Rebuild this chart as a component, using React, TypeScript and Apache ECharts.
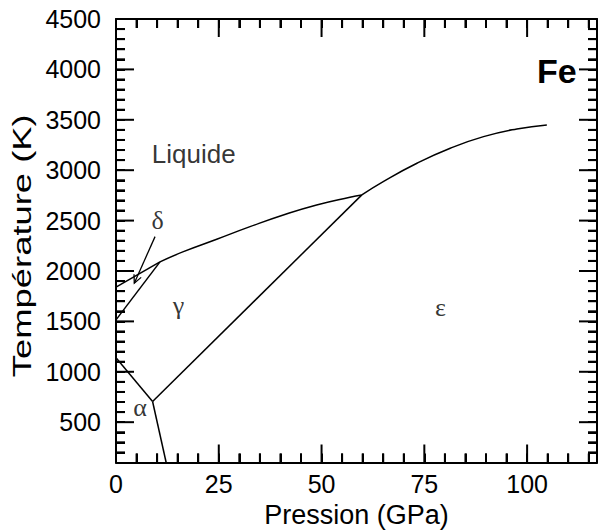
import React, { useEffect, useRef } from "react";
import * as echarts from "echarts";

// Axis ranges and tick positions
const xMin = 0;
const xMax = 117;
const yMin = 100;
const yMax = 4500;
const xMajorTicks = [0, 25, 50, 75, 100];
const xMinorTicks = [5, 10, 15, 20, 30, 35, 40, 45, 55, 60, 65, 70, 80, 85, 90, 95, 105, 110, 115];
const yMajorTicks = [500, 1000, 1500, 2000, 2500, 3000, 3500, 4000, 4500];
const yMinorTicks = [
  200, 300, 400, 600, 700, 800, 900, 1100, 1200, 1300, 1400, 1600, 1700, 1800, 1900,
  2100, 2200, 2300, 2400, 2600, 2700, 2800, 2900, 3100, 3200, 3300, 3400, 3600, 3700,
  3800, 3900, 4100, 4200, 4300, 4400,
];

// Phase boundaries of iron: [pressure GPa, temperature K]
const deltaLiquid = [
  [0, 1840],
  [10.7, 2090],
];
const deltaGamma = [
  [0, 1515],
  [10.7, 2090],
];
const gammaLiquid = [
  [10.7, 2090],
  [16.4, 2192],
  [24.5, 2315],
  [32.6, 2440],
  [40.7, 2556],
  [48.8, 2655],
  [56.9, 2732],
  [59.8, 2755],
];
const epsilonLiquid = [
  [59.8, 2755],
  [65.0, 2887],
  [73.2, 3069],
  [81.3, 3218],
  [89.4, 3333],
  [97.5, 3409],
  [104.8, 3449],
];
const gammaEpsilon = [
  [8.9, 705],
  [59.8, 2755],
];
const alphaGamma = [
  [0, 1140],
  [8.9, 705],
];
const alphaEpsilon = [
  [8.9, 705],
  [12.2, 100],
];

// Arrow pointing from the δ label into the thin δ field: [x1, y1, x2, y2]
const deltaArrow = [9.5, 2341, 4.45, 1879];

// Phase names and where they sit
const phaseNames = ["Liquide", "δ", "γ", "ε", "α"];
const phasePositions = [
  [18.9, 3161],
  [10.1, 2497],
  [15.2, 1654],
  [78.95, 1634],
  [5.84, 642],
];

const SANS = "'Liberation Sans', Arial, Helvetica, sans-serif";
const SERIF = "'Liberation Serif', 'Times New Roman', serif";
const INK = "#000";
const MAJOR_LEN = 18;
const MINOR_LEN = 9;

const GRID = { left: 116, right: 9, top: 19, bottom: 68.5 };

function frameAxis(kind: "x" | "y", position: string, withLabels: boolean) {
  const isX = kind === "x";
  return {
    type: "value",
    position,
    min: isX ? xMin : yMin,
    max: isX ? xMax : yMax,
    interval: isX ? 5 : 100,
    axisLine: { show: true, onZero: false, lineStyle: { color: INK, width: 2 } },
    axisTick: { show: true, inside: true, length: MINOR_LEN, lineStyle: { color: INK, width: 2 } },
    splitLine: { show: false },
    axisLabel: withLabels
      ? {
          show: true,
          margin: isX ? 9 : 15,
          customValues: isX ? xMajorTicks : yMajorTicks,
          fontSize: 25,
          fontFamily: SANS,
          color: INK,
          formatter: (v: number) =>
            (isX ? xMajorTicks : yMajorTicks).indexOf(v) >= 0 ? String(v) : "",
        }
      : { show: false },
    name: withLabels && isX ? "Pression (GPa)" : "",
    nameLocation: "middle",
    nameGap: 32,
    nameTextStyle: { fontSize: 27, fontFamily: SANS, color: INK },
  };
}

function boundary(data: number[][], smooth: boolean | number) {
  return {
    type: "line",
    xAxisIndex: 0,
    yAxisIndex: 0,
    data,
    smooth,
    showSymbol: false,
    symbol: "none",
    silent: true,
    lineStyle: { color: INK, width: 1.5 },
    z: 3,
  };
}

// Inward tick marks on one side of the frame, placed through the axis scales
function tickSeries(side: "bottom" | "top" | "left" | "right", values: number[], len: number) {
  const horizontal = side === "bottom" || side === "top";
  return {
    type: "custom",
    xAxisIndex: 0,
    yAxisIndex: 0,
    data: values.map((v) => (horizontal ? [v, 300] : [50, v])),
    renderItem: (_p: any, api: any) => {
      if (horizontal) {
        const p = api.coord([api.value(0), side === "bottom" ? yMin : yMax]);
        const dir = side === "bottom" ? -1 : 1;
        return {
          type: "line",
          shape: { x1: p[0], y1: p[1], x2: p[0], y2: p[1] + dir * len },
          style: { stroke: INK, lineWidth: 2 },
        };
      }
      const p = api.coord([side === "left" ? xMin : xMax, api.value(1)]);
      const dir = side === "left" ? 1 : -1;
      return {
        type: "line",
        shape: { x1: p[0], y1: p[1], x2: p[0] + dir * len, y2: p[1] },
        style: { stroke: INK, lineWidth: 2 },
      };
    },
  };
}

export default function App() {
  const ref = useRef<HTMLDivElement>(null);

  useEffect(() => {
    if (!ref.current) return;
    const chart = echarts.init(ref.current, undefined, { renderer: "svg" });

    const labelData = phaseNames.map((name, i) => ({
      name,
      value: phasePositions[i],
      label: {
        fontFamily: name === "Liquide" ? SANS : SERIF,
        fontSize: 26,
        color: INK,
      },
    }));

    const plotMidY = GRID.top + (531 - GRID.top - GRID.bottom) / 2;

    chart.setOption({
      animation: false,
      backgroundColor: "#fff",
      title: {
        text: "Fe",
        left: 532,
        top: 49,
        textStyle: { fontSize: 34, fontWeight: "bold", fontFamily: SANS, color: INK },
      },
      grid: { ...GRID, containLabel: false, outerBoundsMode: "none" },
      xAxis: [frameAxis("x", "bottom", true), frameAxis("x", "top", false)],
      yAxis: [frameAxis("y", "left", true), frameAxis("y", "right", false)],
      graphic: [
        {
          type: "text",
          x: 22,
          y: plotMidY + 5,
          rotation: Math.PI / 2,
          scaleX: 1.4,
          silent: true,
          style: {
            text: "Température (K)",
            fontSize: 26,
            fontFamily: SANS,
            fill: INK,
            textAlign: "center",
            textVerticalAlign: "middle",
          },
        },
      ],
      series: [
        boundary(deltaLiquid, false),
        boundary(deltaGamma, false),
        boundary(gammaLiquid, true),
        boundary(epsilonLiquid, true),
        boundary(gammaEpsilon, false),
        boundary(alphaGamma, false),
        boundary(alphaEpsilon, false),
        tickSeries("bottom", xMajorTicks, MAJOR_LEN),
        tickSeries("bottom", xMinorTicks, MINOR_LEN),
        tickSeries("top", xMajorTicks, MAJOR_LEN),
        tickSeries("top", xMinorTicks, MINOR_LEN),
        tickSeries("left", yMajorTicks, MAJOR_LEN),
        tickSeries("left", yMinorTicks, MINOR_LEN),
        tickSeries("right", yMajorTicks, MAJOR_LEN),
        tickSeries("right", yMinorTicks, MINOR_LEN),
        {
          type: "custom",
          xAxisIndex: 0,
          yAxisIndex: 0,
          silent: true,
          data: [deltaArrow],
          renderItem: (_params: any, api: any) => {
            const p1 = api.coord([api.value(0), api.value(1)]);
            const p2 = api.coord([api.value(2), api.value(3)]);
            const ang = Math.atan2(p2[1] - p1[1], p2[0] - p1[0]);
            const len = 9;
            const spread = 0.45;
            const w1 = [p2[0] - len * Math.cos(ang - spread), p2[1] - len * Math.sin(ang - spread)];
            const w2 = [p2[0] - len * Math.cos(ang + spread), p2[1] - len * Math.sin(ang + spread)];
            return {
              type: "group",
              children: [
                {
                  type: "line",
                  shape: { x1: p1[0], y1: p1[1], x2: p2[0], y2: p2[1] },
                  style: { stroke: INK, lineWidth: 1.3 },
                },
                {
                  type: "polyline",
                  shape: { points: [w1, p2, w2] },
                  style: { stroke: INK, lineWidth: 1.3, fill: "none" },
                },
              ],
            };
          },
        },
        {
          type: "scatter",
          xAxisIndex: 0,
          yAxisIndex: 0,
          silent: true,
          symbolSize: 1,
          itemStyle: { color: "rgba(0,0,0,0)" },
          data: labelData,
          label: {
            show: true,
            position: "inside",
            formatter: "{b}",
            color: INK,
            textBorderWidth: 0,
          },
          z: 4,
        },
      ],
    });

    return () => chart.dispose();
  }, []);

  return <div ref={ref} style={{ width: 606, height: 531, position: "absolute", left: 0, top: 0 }} />;
}
